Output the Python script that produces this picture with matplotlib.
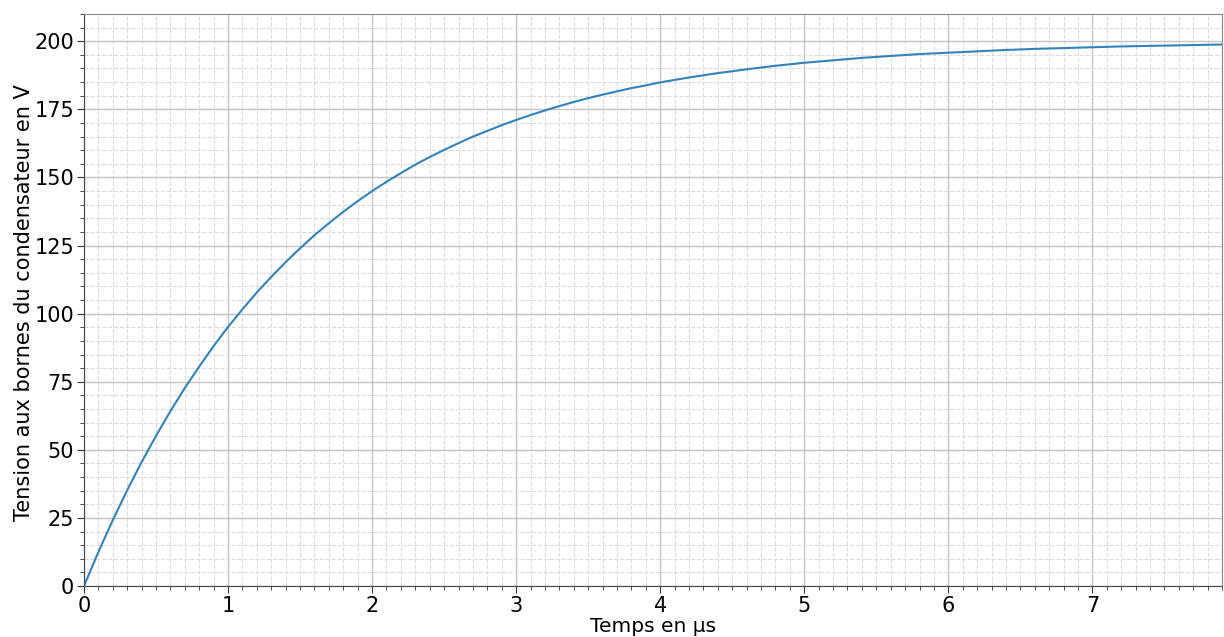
import matplotlib
matplotlib.use("Agg")
import matplotlib.pyplot as plt
from matplotlib.ticker import MultipleLocator

# Time in µs and capacitor voltage in V
temps_us = [0.0, 0.1, 0.2, 0.3, 0.4, 0.5, 0.6, 0.7, 0.8, 0.9, 1.0, 1.1, 1.2, 1.3,
            1.4, 1.5, 1.6, 1.7, 1.8, 1.9, 2.0, 2.1, 2.2, 2.3, 2.4, 2.5, 2.6, 2.7,
            2.8, 2.9, 3.0, 3.1, 3.2, 3.3, 3.4, 3.5, 3.6, 3.7, 3.8, 3.9, 4.0, 4.2,
            4.4, 4.6, 4.8, 5.0, 5.2, 5.4, 5.6, 5.8, 6.0, 6.2, 6.4, 6.6, 6.8, 7.0,
            7.2, 7.4, 7.6, 7.8, 7.9]
tension_v = [0.0, 12.5, 24.2, 35.2, 45.5, 55.1, 64.2, 72.7, 80.6, 88.1, 95.1,
             101.6, 107.8, 113.5, 118.9, 124.0, 128.8, 133.2, 137.4, 141.3, 145.0,
             148.4, 151.6, 154.7, 157.5, 160.1, 162.6, 165.0, 167.1, 169.2, 171.1,
             172.9, 174.6, 176.2, 177.7, 179.1, 180.4, 181.6, 182.8, 183.8, 184.9,
             186.7, 188.3, 189.7, 191.0, 192.1, 193.0, 193.9, 194.6, 195.3, 195.8,
             196.3, 196.8, 197.2, 197.5, 197.8, 198.1, 198.3, 198.5, 198.7, 198.8]
x_ticks = [0, 1, 2, 3, 4, 5, 6, 7]
y_ticks = [0, 25, 50, 75, 100, 125, 150, 175, 200]

fig = plt.figure(figsize=(12.24, 6.37), dpi=100)
ax = fig.add_axes([0.0686, 0.080, 0.9298, 0.898])

ax.plot(temps_us, tension_v, color="#3383bb", linewidth=1.5)

ax.set_xlim(0, 7.9)
ax.set_ylim(0, 210)
ax.set_xticks(x_ticks)
ax.set_yticks(y_ticks)
ax.xaxis.set_minor_locator(MultipleLocator(0.1))
ax.yaxis.set_minor_locator(MultipleLocator(5))

ax.grid(which="major", color="#c4c4c4", linewidth=1.0, linestyle="-")
ax.grid(which="minor", color="#dcdcdc", linewidth=0.8, linestyle="--")
ax.set_axisbelow(True)

ax.tick_params(axis="both", which="major", labelsize=15, length=5, color="#333333", pad=2)
ax.tick_params(axis="both", which="minor", length=3, color="#333333")

for s in ["top", "right"]:
    ax.spines[s].set_color("#888888")
for s in ["left", "bottom"]:
    ax.spines[s].set_color("#444444")

ax.set_xlabel("Temps en µs", fontsize=14.5, labelpad=1)
ax.set_ylabel("Tension aux bornes du condensateur en V", fontsize=15)
ax.yaxis.set_label_coords(-0.044, 0.495)

fig.savefig("out.png", dpi=100)
